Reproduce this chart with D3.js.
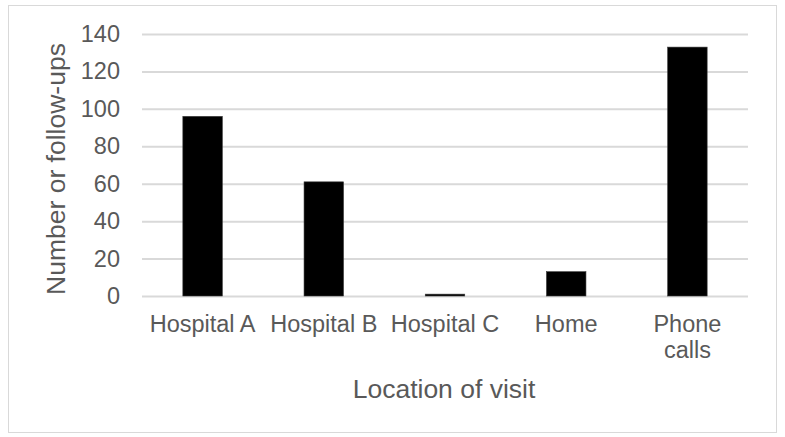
<!DOCTYPE html>
<html>
<head>
<meta charset="utf-8">
<script src="https://cdn.jsdelivr.net/npm/d3@7"></script>
<style>
  html, body { margin: 0; padding: 0; background: #fff; }
  svg { display: block; }
  text { font-family: "Liberation Sans", Arial, sans-serif; fill: #595959; }
</style>
</head>
<body>
<svg id="chart" width="785" height="437"></svg>
<script>
// Follow-up counts by location of visit
const categories = ["Hospital A", "Hospital B", "Hospital C", "Home", "Phone calls"];
const followUps = [96, 61, 1, 13, 133];
const yTicks = [0, 20, 40, 60, 80, 100, 120, 140];
const xTitle = "Location of visit";
const yTitle = "Number or follow-ups";

const svg = d3.select("#chart");
const plot = { left: 142, right: 748, top: 34, bottom: 296 };
const tickFont = "23.5px";
const titleFont = "26.5px";

// chart frame
svg.append("rect")
  .attr("x", 8.5).attr("y", 5.5)
  .attr("width", 768).attr("height", 427)
  .attr("fill", "#fff").attr("stroke", "#d9d9d9").attr("stroke-width", 1);

const x = d3.scaleBand()
  .domain(categories)
  .range([plot.left, plot.right])
  .paddingInner(0.674)
  .paddingOuter(0.337);

const y = d3.scaleLinear()
  .domain([0, 140])
  .range([plot.bottom, plot.top]);

// horizontal gridlines and value labels
const yAxis = d3.axisLeft(y)
  .tickValues(yTicks)
  .tickSize(-(plot.right - plot.left))
  .tickPadding(22);

const gy = svg.append("g")
  .attr("transform", `translate(${plot.left},0)`)
  .call(yAxis);
gy.select(".domain").remove();
gy.selectAll(".tick line").attr("stroke", "#d9d9d9").attr("stroke-width", 2);
gy.selectAll(".tick text")
  .attr("font-size", tickFont)
  .attr("fill", "#595959")
  .style("font-family", "'Liberation Sans', Arial, sans-serif");

// bars
svg.append("g")
  .selectAll("rect")
  .data(categories)
  .join("rect")
  .attr("x", d => x(d))
  .attr("width", x.bandwidth())
  .attr("y", (d, i) => y(followUps[i]))
  .attr("height", (d, i) => y(0) - y(followUps[i]))
  .attr("fill", "#000")
  .attr("stroke", "#3a3a3a")
  .attr("stroke-width", 0.6);

// category labels, wrapped to the band width
const xAxis = d3.axisBottom(x).tickSize(0).tickPadding(19);
const gx = svg.append("g")
  .attr("transform", `translate(0,${plot.bottom})`)
  .call(xAxis);
gx.select(".domain").remove();
gx.selectAll(".tick text")
  .attr("font-size", tickFont)
  .attr("fill", "#595959")
  .style("font-family", "'Liberation Sans', Arial, sans-serif")
  .call(wrap, 112);

function wrap(sel, width) {
  sel.each(function () {
    const t = d3.select(this);
    const words = t.text().split(/\s+/);
    const yAttr = t.attr("y");
    const dy = parseFloat(t.attr("dy")) || 0;
    t.text(null);
    let line = [];
    let lineNo = 0;
    let tspan = t.append("tspan").attr("x", 0).attr("y", yAttr).attr("dy", dy + "em");
    for (const w of words) {
      line.push(w);
      tspan.text(line.join(" "));
      if (tspan.node().getComputedTextLength() > width && line.length > 1) {
        line.pop();
        tspan.text(line.join(" "));
        line = [w];
        lineNo++;
        tspan = t.append("tspan").attr("x", 0).attr("y", yAttr)
          .attr("dy", (dy + lineNo * 1.12) + "em").text(w);
      }
    }
  });
}

// axis titles
svg.append("text")
  .attr("x", (plot.left + plot.right) / 2 - 1)
  .attr("y", 398)
  .attr("text-anchor", "middle")
  .attr("font-size", titleFont)
  .text(xTitle);

svg.append("text")
  .attr("transform", `translate(65,${(plot.top + plot.bottom) / 2 + 4}) rotate(-90)`)
  .attr("text-anchor", "middle")
  .attr("font-size", titleFont)
  .text(yTitle);
</script>
</body>
</html>
